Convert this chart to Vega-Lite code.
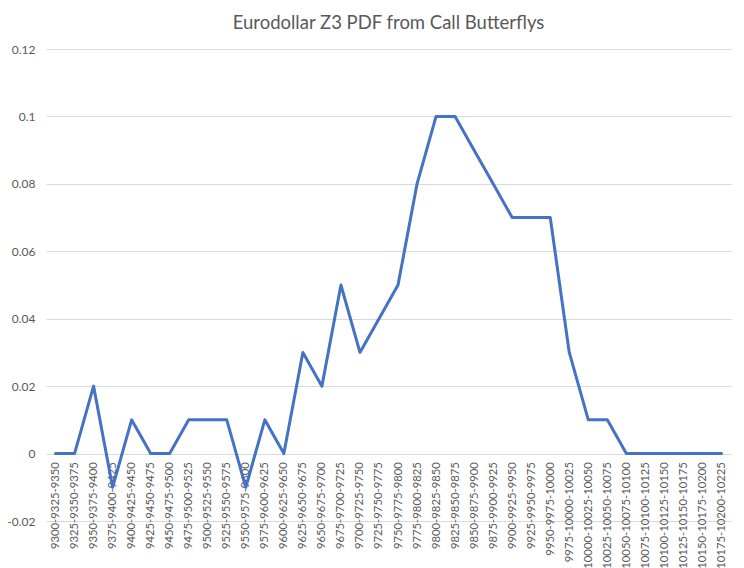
{
  "$schema": "https://vega.github.io/schema/vega-lite/v6.json",
  "width": 685,
  "height": 472,
  "autosize": "none",
  "padding": {"left": 46, "top": 49, "right": 13, "bottom": 47},
  "background": "white",
  "title": {
    "text": "Eurodollar Z3 PDF from Call Butterflys",
    "font": "Lato",
    "fontSize": 18.5,
    "fontWeight": "normal",
    "color": "#595959",
    "anchor": "middle",
    "offset": 11
  },
  "config": {"view": {"stroke": null}},
  "data": {
    "values": [
      {"range": "9300-9325-9350", "p": 0},
      {"range": "9325-9350-9375", "p": 0},
      {"range": "9350-9375-9400", "p": 0.02},
      {"range": "9375-9400-9425", "p": -0.01},
      {"range": "9400-9425-9450", "p": 0.01},
      {"range": "9425-9450-9475", "p": 0},
      {"range": "9450-9475-9500", "p": 0},
      {"range": "9475-9500-9525", "p": 0.01},
      {"range": "9500-9525-9550", "p": 0.01},
      {"range": "9525-9550-9575", "p": 0.01},
      {"range": "9550-9575-9600", "p": -0.01},
      {"range": "9575-9600-9625", "p": 0.01},
      {"range": "9600-9625-9650", "p": 0},
      {"range": "9625-9650-9675", "p": 0.03},
      {"range": "9650-9675-9700", "p": 0.02},
      {"range": "9675-9700-9725", "p": 0.05},
      {"range": "9700-9725-9750", "p": 0.03},
      {"range": "9725-9750-9775", "p": 0.04},
      {"range": "9750-9775-9800", "p": 0.05},
      {"range": "9775-9800-9825", "p": 0.08},
      {"range": "9800-9825-9850", "p": 0.1},
      {"range": "9825-9850-9875", "p": 0.1},
      {"range": "9850-9875-9900", "p": 0.09},
      {"range": "9875-9900-9925", "p": 0.08},
      {"range": "9900-9925-9950", "p": 0.07},
      {"range": "9925-9950-9975", "p": 0.07},
      {"range": "9950-9975-10000", "p": 0.07},
      {"range": "9975-10000-10025", "p": 0.03},
      {"range": "10000-10025-10050", "p": 0.01},
      {"range": "10025-10050-10075", "p": 0.01},
      {"range": "10050-10075-10100", "p": 0},
      {"range": "10075-10100-10125", "p": 0},
      {"range": "10100-10125-10150", "p": 0},
      {"range": "10125-10150-10175", "p": 0},
      {"range": "10150-10175-10200", "p": 0},
      {"range": "10175-10200-10225", "p": 0}
    ]
  },
  "mark": {"type": "line", "color": "#4472C4", "strokeWidth": 3, "strokeJoin": "round", "strokeCap": "round"},
  "encoding": {
    "x": {
      "field": "range",
      "type": "ordinal",
      "sort": null,
      "scale": {"type": "point", "padding": 0.5},
      "axis": {
        "title": null,
        "offset": -67.43,
        "domain": false,
        "ticks": false,
        "grid": false,
        "labelAngle": -90,
        "labelPadding": 8,
        "labelFont": "Lato",
        "labelFontSize": 11.3,
        "labelColor": "#595959",
        "labelOverlap": false,
        "labelBound": false,
        "labelFlush": false
      }
    },
    "y": {
      "field": "p",
      "type": "quantitative",
      "scale": {"domain": [-0.02, 0.12], "nice": false, "zero": false},
      "axis": {
        "title": null,
        "values": [-0.02, 0, 0.02, 0.04, 0.06, 0.08, 0.1, 0.12],
        "labelExpr": "'' + datum.value",
        "domain": false,
        "ticks": false,
        "grid": true,
        "gridColor": "#d9d9d9",
        "gridWidth": 1,
        "labelPadding": 11,
        "labelFont": "Lato",
        "labelFontSize": 12,
        "labelColor": "#595959"
      }
    }
  }
}
